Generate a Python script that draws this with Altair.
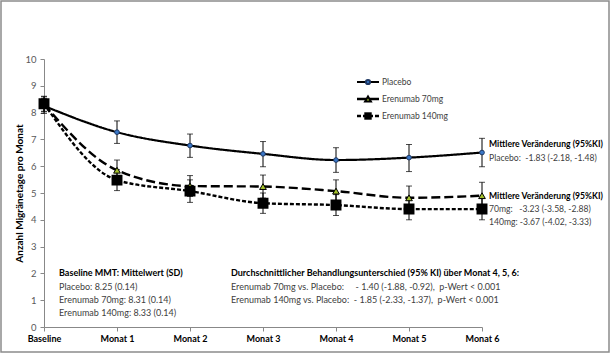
import altair as alt
import pandas as pd

months = ["Baseline", "Monat 1", "Monat 2", "Monat 3", "Monat 4", "Monat 5", "Monat 6"]
series_names = ["Placebo", "Erenumab 70mg", "Erenumab 140mg"]

placebo = [8.25, 7.27, 6.77, 6.46, 6.23, 6.32, 6.51]
placebo_lo = [7.97, 6.85, 6.33, 5.98, 5.77, 5.80, 5.98]
placebo_hi = [8.53, 7.69, 7.20, 6.92, 6.69, 6.81, 7.04]

e70 = [8.31, 5.85, 5.26, 5.24, 5.07, 4.82, 4.90]
e70_lo = [8.03, 5.47, 4.87, 4.81, 4.65, 4.38, 4.40]
e70_hi = [8.59, 6.23, 5.65, 5.67, 5.49, 5.26, 5.40]

e140 = [8.33, 5.48, 5.07, 4.62, 4.55, 4.40, 4.40]
e140_lo = [8.05, 5.09, 4.65, 4.24, 4.16, 4.00, 4.00]
e140_hi = [8.61, 5.87, 5.49, 5.00, 4.94, 4.80, 4.80]

y_ticks = [0, 1, 2, 3, 4, 5, 6, 7, 8, 9, 10]

rows = []
for name, v, lo, hi in zip(series_names, [placebo, e70, e140],
                           [placebo_lo, e70_lo, e140_lo], [placebo_hi, e70_hi, e140_hi]):
    for m, a, b, c in zip(months, v, lo, hi):
        rows.append(dict(series=name, month=m, value=a, lo=b, hi=c))
df = pd.DataFrame(rows)

FONT = "Lato"

x_enc = alt.X("month:N", sort=months,
              scale=alt.Scale(type="point", padding=0),
              axis=alt.Axis(title=None, labelAngle=0, labelFontWeight="bold",
                            labelColor="#000000", labelFontSize=9, labelPadding=3))

Y_AXIS = alt.Axis(title="Anzahl Migränetage pro Monat",
                  values=y_ticks, labelOverlap=False,
                  titleFontWeight="bold",
                  titleFontSize=10, titleColor="#000000", titlePadding=0,
                  labelColor="#595959", labelFontSize=9.5, labelPadding=4)
Y_SCALE = alt.Scale(domain=[0, 10], nice=False)


def y_q(field):
    return alt.Y(field, type="quantitative", scale=Y_SCALE, axis=Y_AXIS)


base = alt.Chart(df)

# error bars
err_rule = base.mark_rule(color="#000000", strokeWidth=1).encode(
    x=x_enc, y=y_q("lo"), y2="hi:Q")
cap_lo = base.mark_tick(color="#000000", size=6, thickness=1).encode(x=x_enc, y=y_q("lo"))
cap_hi = base.mark_tick(color="#000000", size=6, thickness=1).encode(x=x_enc, y=y_q("hi"))

styles = {
    "Placebo": dict(dash=[1, 0], width=2.2),
    "Erenumab 70mg": dict(dash=[9, 4], width=2.4),
    "Erenumab 140mg": dict(dash=[4, 2], width=2.4),
}

lines = []
for name in series_names:
    st = styles[name]
    lines.append(
        base.transform_filter(alt.datum.series == name)
        .mark_line(color="#000000", strokeWidth=st["width"], strokeDash=st["dash"],
                   interpolate="monotone")
        .encode(x=x_enc, y=y_q("value"))
    )

pt_placebo = base.transform_filter(alt.datum.series == "Placebo").mark_point(
    shape="circle", filled=True, fill="#3a78c8", stroke="#1f3864", strokeWidth=1,
    size=22, opacity=1).encode(x=x_enc, y=y_q("value"))
pt_70 = base.transform_filter(alt.datum.series == "Erenumab 70mg").mark_point(
    shape="triangle-up", filled=True, fill="#a3c02c", stroke="#000000", strokeWidth=1,
    size=45, opacity=1).encode(x=x_enc, y=y_q("value"))
pt_140 = base.transform_filter(alt.datum.series == "Erenumab 140mg").mark_point(
    shape="square", filled=True, fill="#000000", stroke="#000000", size=80,
    opacity=1).encode(x=x_enc, y=y_q("value"))

one = alt.Data(values=[{}])


def txt(s, x, y, bold=False, size=9, color="#404040"):
    return alt.Chart(one).mark_text(
        align="left", baseline="middle", font=FONT, fontSize=size,
        fontWeight="bold" if bold else "normal", color=color
    ).encode(x=alt.value(x), y=alt.value(y), text=alt.value(s))


NB = "\u00a0"

# legend
leg = []
leg_items = [("Placebo", 23), ("Erenumab 70mg", 40), ("Erenumab 140mg", 57)]
for name, yy in leg_items:
    st = styles[name]
    leg.append(alt.Chart(one).mark_rule(color="#000000", strokeWidth=st["width"],
                                        strokeDash=st["dash"]).encode(
        x=alt.value(313), x2=alt.value(335), y=alt.value(yy)))
    leg.append(txt(name, 338, yy, size=8.5))
leg.append(alt.Chart(one).mark_point(shape="circle", filled=True, fill="#3a78c8",
                                     stroke="#1f3864", size=18, opacity=1).encode(
    x=alt.value(324), y=alt.value(23)))
leg.append(alt.Chart(one).mark_point(shape="triangle-up", filled=True, fill="#a3c02c",
                                     stroke="#000000", size=34, opacity=1).encode(
    x=alt.value(324), y=alt.value(40)))
leg.append(alt.Chart(one).mark_point(shape="square", filled=True, fill="#000000",
                                     size=55, opacity=1).encode(
    x=alt.value(324), y=alt.value(57)))

annos = [
    txt("Mittlere Veränderung (95%KI)", 445, 85, bold=True, color="#000000", size=8.6),
    txt("Placebo:" + NB * 2 + "-1.83 (-2.18, -1.48)", 445, 99, size=8.6),
    txt("Mittlere Veränderung (95%KI)", 445, 137, bold=True, color="#000000", size=8.6),
    txt("70mg:" + NB * 3 + "-3.23 (-3.58, -2.88)", 445, 150, size=8.6),
    txt("140mg: -3.67 (-4.02, -3.33)", 445, 163, size=8.6),
    txt("Baseline MMT: Mittelwert (SD)", 15, 214, bold=True, color="#000000"),
    txt("Placebo: 8.25 (0.14)", 15, 228),
    txt("Erenumab 70mg: 8.31 (0.14)", 15, 241),
    txt("Erenumab 140mg: 8.33 (0.14)", 15, 254),
    txt("Durchschnittlicher Behandlungsunterschied (95% KI) über Monat 4, 5, 6:", 187, 214,
        bold=True, color="#000000"),
    txt("Erenumab 70mg vs. Placebo:" + NB * 5 + "- 1.40 (-1.88, -0.92)," + NB * 2
        + "p-Wert < 0.001", 187, 228),
    txt("Erenumab 140mg vs. Placebo:" + NB * 2 + "- 1.85 (-2.33, -1.37)," + NB * 2
        + "p-Wert < 0.001", 187, 241),
]

frame = alt.Chart(one).mark_rect(fill=None, stroke="#8c8c8c", strokeWidth=1.5).encode(
    x=alt.value(-43), x2=alt.value(565), y=alt.value(-58), y2=alt.value(293))

chart = alt.layer(
    frame, err_rule, cap_lo, cap_hi, *lines, pt_placebo, pt_70, pt_140, *leg, *annos
).properties(
    width=438, height=268,
    autosize=alt.AutoSizeParams(type="none"),
    padding={"left": 44, "top": 59, "right": 128, "bottom": 27},
    background="#ffffff",
).configure_view(stroke=None).configure_axis(
    grid=False, domainColor="#888888", tickColor="#888888", tickSize=4,
    labelFont=FONT, titleFont=FONT
)

chart.save("out.html", embed_options={"renderer": "svg", "actions": False})
